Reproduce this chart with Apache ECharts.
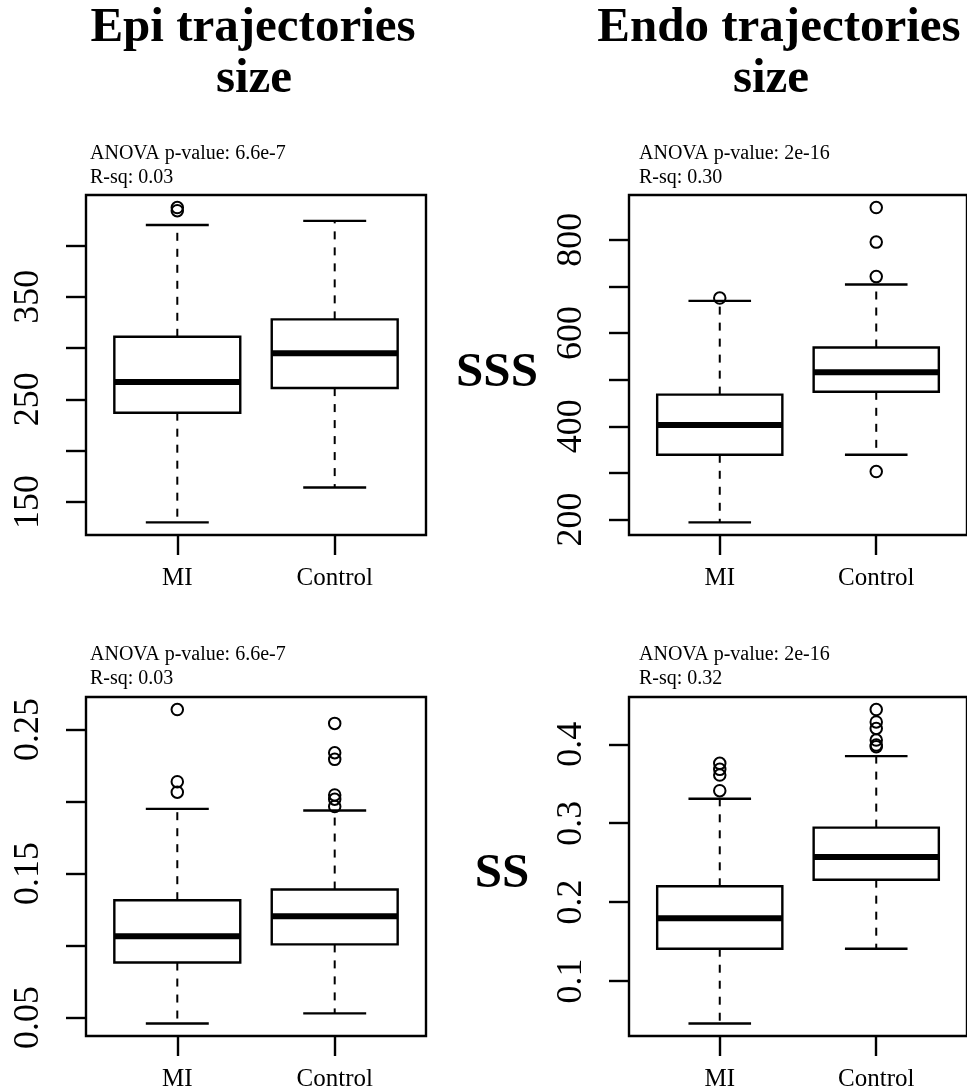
<!DOCTYPE html>
<html>
<head>
<meta charset="utf-8">
<title>Trajectory size boxplots</title>
<script src="https://cdn.jsdelivr.net/npm/echarts@6/dist/echarts.min.js"></script>
<style>
  html, body { margin: 0; padding: 0; background: #fff; }
  #chart { width: 967px; height: 1092px; }
</style>
</head>
<body>
<div id="chart"></div>
<script>
// Groups shown on every x axis
const groups = ['MI', 'Control'];

// Box statistics per group: [lower whisker, Q1, median, Q3, upper whisker]
const epiSSS = [[130, 237, 267, 311, 420], [164, 261, 295, 328, 424]];
const epiSSSOut = [[437, 434], []];
const endoSSS = [[194, 339, 403, 468, 669], [339, 474, 516, 569, 704]];
const endoSSSOut = [[675], [869, 795, 721, 303]];
const epiSS = [[0.0458, 0.0881, 0.1063, 0.1314, 0.1948], [0.0528, 0.1007, 0.1203, 0.1388, 0.1937]];
const epiSSOut = [[0.2638, 0.2137, 0.2064], [0.2542, 0.2338, 0.2292, 0.2045, 0.2015, 0.1964]];
const endoSS = [[0.0462, 0.1409, 0.1795, 0.2200, 0.3310], [0.1409, 0.2284, 0.2571, 0.2944, 0.3850]];
const endoSSOut = [[0.3758, 0.3682, 0.3610, 0.3412], [0.4440, 0.4283, 0.4200, 0.4053, 0.3990, 0.3970]];

// Y tick marks and the subset of them that carry labels
const epiSSSTicks = [150, 200, 250, 300, 350, 400];
const epiSSSLabels = [150, 250, 350];
const endoSSSTicks = [200, 300, 400, 500, 600, 700, 800];
const endoSSSLabels = [200, 400, 600, 800];
const epiSSTicks = [0.05, 0.10, 0.15, 0.20, 0.25];
const epiSSLabels = [0.05, 0.15, 0.25];
const endoSSTicks = [0.1, 0.2, 0.3, 0.4];
const endoSSLabels = [0.1, 0.2, 0.3, 0.4];

// Annotation lines above each panel
const epiSSSNote = ['ANOVA p-value: 6.6e-7', 'R-sq: 0.03'];
const endoSSSNote = ['ANOVA p-value: 2e-16', 'R-sq: 0.30'];
const epiSSNote = ['ANOVA p-value: 6.6e-7', 'R-sq: 0.03'];
const endoSSNote = ['ANOVA p-value: 2e-16', 'R-sq: 0.32'];

const colTitles = [['Epi trajectories', 'size'], ['Endo trajectories', 'size']];
const rowTitles = ['SSS', 'SS'];

const FONT = '"Liberation Serif", "Times New Roman", Times, serif';
const BOX_HALF = 0.4;     // half box width in x-axis units
const STAPLE_HALF = 0.2;  // half whisker-cap width
const LW = 2.4;

// Axis range padded by 4% on each side of the data
function paddedRange(stats, outs) {
  const vals = [];
  stats.forEach(s => vals.push(...s));
  outs.forEach(o => vals.push(...o));
  const lo = Math.min(...vals), hi = Math.max(...vals);
  const pad = 0.04 * (hi - lo);
  return [lo - pad, hi + pad];
}

const panels = [
  { stats: epiSSS, outs: epiSSSOut, ticks: epiSSSTicks, labels: epiSSSLabels, note: epiSSSNote,
    grid: { left: 86, top: 195, width: 340, height: 340 }, noteX: 90, noteY: 142 },
  { stats: endoSSS, outs: endoSSSOut, ticks: endoSSSTicks, labels: endoSSSLabels, note: endoSSSNote,
    grid: { left: 629, top: 195, width: 340, height: 340 }, noteX: 639, noteY: 142 },
  { stats: epiSS, outs: epiSSOut, ticks: epiSSTicks, labels: epiSSLabels, note: epiSSNote,
    grid: { left: 86, top: 697, width: 340, height: 340 }, noteX: 90, noteY: 643 },
  { stats: endoSS, outs: endoSSOut, ticks: endoSSTicks, labels: endoSSLabels, note: endoSSNote,
    grid: { left: 629, top: 697, width: 340, height: 340 }, noteX: 639, noteY: 643 }
];

function renderBox(params, api) {
  const x = api.value(0);
  const lo = api.value(1), q1 = api.value(2), med = api.value(3), q3 = api.value(4), hi = api.value(5);
  const tl = api.coord([x - BOX_HALF, q3]);
  const br = api.coord([x + BOX_HALF, q1]);
  const mL = api.coord([x - BOX_HALF, med]);
  const mR = api.coord([x + BOX_HALF, med]);
  const cTop = api.coord([x, hi]);
  const cQ3 = api.coord([x, q3]);
  const cQ1 = api.coord([x, q1]);
  const cBot = api.coord([x, lo]);
  const sL = api.coord([x - STAPLE_HALF, hi])[0];
  const sR = api.coord([x + STAPLE_HALF, hi])[0];
  const solid = { stroke: '#000', lineWidth: LW, fill: null };
  const dashed = { stroke: '#000', lineWidth: 2, lineDash: [8, 8], fill: null };
  return {
    type: 'group',
    children: [
      { type: 'line', shape: { x1: cQ3[0], y1: cQ3[1], x2: cTop[0], y2: cTop[1] }, style: dashed },
      { type: 'line', shape: { x1: cQ1[0], y1: cQ1[1], x2: cBot[0], y2: cBot[1] }, style: dashed },
      { type: 'line', shape: { x1: sL, y1: cTop[1], x2: sR, y2: cTop[1] }, style: solid },
      { type: 'line', shape: { x1: sL, y1: cBot[1], x2: sR, y2: cBot[1] }, style: solid },
      { type: 'rect', shape: { x: tl[0], y: tl[1], width: br[0] - tl[0], height: br[1] - tl[1] },
        style: { stroke: '#000', lineWidth: LW, fill: '#fff' } },
      { type: 'line', shape: { x1: mL[0], y1: mL[1], x2: mR[0], y2: mR[1] },
        style: { stroke: '#000', lineWidth: 6 } }
    ]
  };
}

const grids = [], xAxes = [], yAxes = [], series = [], graphics = [];

panels.forEach((p, i) => {
  const range = paddedRange(p.stats, p.outs);
  grids.push(Object.assign({ show: true, borderColor: '#000', borderWidth: LW, backgroundColor: 'transparent' }, p.grid));
  xAxes.push({
    type: 'value', gridIndex: i, min: 0.42, max: 2.58,
    axisLine: { show: false },
    splitLine: { show: false },
    axisTick: { show: true, length: 20, customValues: [1, 2], lineStyle: { color: '#000', width: LW } },
    axisLabel: {
      customValues: [1, 2], margin: 31,
      formatter: v => groups[Math.round(v) - 1],
      fontFamily: FONT, fontSize: 25, color: '#000'
    }
  });
  yAxes.push({
    type: 'value', gridIndex: i, min: range[0], max: range[1],
    axisLine: { show: false },
    splitLine: { show: false },
    axisTick: { show: true, length: 20, customValues: p.ticks, lineStyle: { color: '#000', width: LW } },
    axisLabel: {
      customValues: p.labels, rotate: 90, margin: 39,
      formatter: v => String(v),
      fontFamily: FONT, fontSize: 36, color: '#000'
    }
  });
  series.push({
    type: 'custom', xAxisIndex: i, yAxisIndex: i,
    renderItem: renderBox,
    encode: { x: 0, y: [1, 2, 3, 4, 5] },
    data: p.stats.map((s, g) => [g + 1].concat(s)),
    silent: true
  });
  const outData = [];
  p.outs.forEach((o, g) => o.forEach(v => outData.push([g + 1, v])));
  series.push({
    type: 'scatter', xAxisIndex: i, yAxisIndex: i,
    symbol: 'circle', symbolSize: 11.5,
    itemStyle: { color: 'rgba(0,0,0,0)', borderColor: '#000', borderWidth: 2, opacity: 1 },
    data: outData, silent: true, z: 3
  });
  graphics.push({
    type: 'text', x: p.noteX, y: p.noteY,
    style: { text: p.note.join('\n'), font: '20px ' + FONT, fill: '#000',
             lineHeight: 23.5, textAlign: 'left', textVerticalAlign: 'top' }
  });
});

// Column headings
const headPos = [[[253, 28], [254, 79]], [[779, 28], [771, 79]]];
colTitles.forEach((lines, c) => {
  lines.forEach((t, k) => {
    graphics.push({
      type: 'text', x: headPos[c][k][0], y: headPos[c][k][1],
      style: { text: t, font: 'bold 49px ' + FONT, fill: '#000',
               textAlign: 'center', textVerticalAlign: 'middle' }
    });
  });
});

// Row headings
const rowPos = [[497, 373], [502, 874]];
rowTitles.forEach((t, r) => {
  graphics.push({
    type: 'text', x: rowPos[r][0], y: rowPos[r][1],
    style: { text: t, font: 'bold 49px ' + FONT, fill: '#000',
             textAlign: 'center', textVerticalAlign: 'middle' }
  });
});

const chart = echarts.init(document.getElementById('chart'), null, { renderer: 'canvas' });
chart.setOption({
  backgroundColor: '#fff',
  animation: false,
  grid: grids,
  xAxis: xAxes,
  yAxis: yAxes,
  series: series,
  graphic: graphics
});
</script>
</body>
</html>
